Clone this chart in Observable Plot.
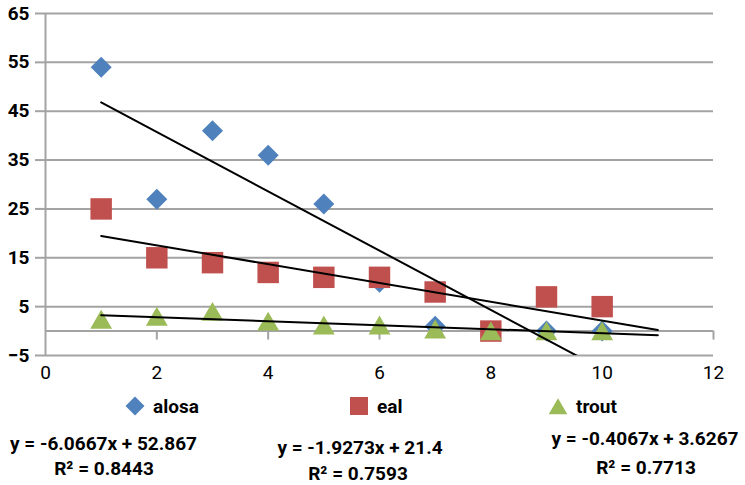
<!DOCTYPE html>
<html><head><meta charset="utf-8">
<script src="https://cdn.jsdelivr.net/npm/d3@7"></script>
<script src="https://cdn.jsdelivr.net/npm/@observablehq/plot@0.6"></script>
<style>
body{margin:0;background:#fff;}
#wrap{position:relative;width:745px;height:485px;font-family:Roboto,sans-serif;overflow:hidden;}
#wrap svg.plot{display:block;}
.lab{position:absolute;transform:translate(-50%,-50%);white-space:nowrap;font-weight:bold;font-size:19px;line-height:1;color:#000;}
.leg{position:absolute;display:flex;align-items:center;transform:translateY(-50%);font-weight:bold;font-size:19px;line-height:1;color:#000;}
.leg svg{display:block;margin-right:8px;}
</style></head><body><div id="wrap"></div>
<script>
// ---- data ----
const xValues = [1, 2, 3, 4, 5, 6, 7, 8, 9, 10];
const alosa = [54, 27, 41, 36, 26, 10, 1, 0, 0, 0];
const eal = [25, 15, 14, 12, 11, 11, 8, 0, 7, 5];
const trout = [2.4, 3, 4, 2, 1.2, 1.2, 0.4, 0, 0, 0];
const seriesNames = ["alosa", "eal", "trout"];
const seriesColors = ["#4f81bd", "#c0504d", "#9bbb59"];
const slopes = [-6.0667, -1.9273, -0.4067];
const intercepts = [52.867, 21.4, 3.6267];
const rSquared = ["0.8443", "0.7593", "0.7713"];
const trendRange = [1, 11];
const xTicks = [0, 2, 4, 6, 8, 10, 12];
const yTicks = [-5, 5, 15, 25, 35, 45, 55, 65];

// ---- derived tables ----
const seriesValues = [alosa, eal, trout];
const points = seriesValues.map(vals => xValues.map((x, i) => ({x, y: vals[i]})));
const trendLines = seriesNames.flatMap((name, k) =>
  trendRange.map(x => ({name, x, y: slopes[k] * x + intercepts[k]})));

const grid = "#a3a3a3";
const symbols = ["diamond2", "square", "triangle"];
const radii = [9.46, 12.1, 8.1];

const plot = Plot.plot({
  width: 745,
  height: 385,
  marginLeft: 45,
  marginRight: 32,
  marginTop: 13,
  marginBottom: 30,
  style: {fontFamily: "Roboto, sans-serif", fontSize: "19px", color: "#000", background: "#fff"},
  x: {domain: [0, 12]},
  y: {domain: [-5, 65]},
  marks: [
    Plot.gridY({ticks: yTicks, stroke: grid, strokeOpacity: 1, strokeWidth: 2}),
    Plot.ruleY([0], {stroke: grid, strokeWidth: 2}),
    Plot.ruleX(xTicks.filter(d => d > 0), {x: d => d, y1: 0, y2: 0, insetBottom: -9, stroke: grid, strokeWidth: 2}),
    Plot.ruleX([0], {y1: -5, y2: 65, stroke: grid, strokeWidth: 2}),
    Plot.axisY({ticks: yTicks, tickSize: 10, tickPadding: 6, stroke: grid, strokeWidth: 2, fontWeight: "bold", label: null}),
    Plot.axisX({ticks: xTicks, tickSize: 0, tickPadding: 10, label: null}),
    ...points.map((pts, k) => Plot.dot(pts, {
      x: "x", y: "y", symbol: () => symbols[k], r: radii[k],
      fill: seriesColors[k], stroke: "none", dy: k === 2 ? 3 : 0
    })),
    Plot.line(trendLines, {x: "x", y: "y", z: "name", stroke: "#000", strokeWidth: 2, clip: true})
  ]
});
plot.classList.add("plot");
const wrap = document.getElementById("wrap");
wrap.appendChild(plot);

// ---- legend ----
const legendX = [135, 359, 558];
const legendSymbols = [d3.symbolDiamond2, d3.symbolSquare, d3.symbolTriangle];
const legendSizes = [230, 324, 150];
seriesNames.forEach((name, k) => {
  const div = document.createElement("div");
  div.className = "leg";
  div.style.left = (legendX[k] - 10) + "px";
  div.style.top = "406px";
  const ty = k === 2 ? 13 : 10;
  div.innerHTML = `<svg width="20" height="20"><path transform="translate(10,${ty})" d="${d3.symbol(legendSymbols[k], legendSizes[k])()}" fill="${seriesColors[k]}"/></svg><span>${name}</span>`;
  wrap.appendChild(div);
});

// ---- equations ----
const eqPos = [[103.5, 443, 104, 468], [360, 447, 358, 473], [645, 438, 646, 467]];
const fmtSigned = v => (v < 0 ? "-" : "") + Math.abs(v);
seriesNames.forEach((name, k) => {
  const [ex, ey, rx, ry] = eqPos[k];
  const e = document.createElement("div");
  e.className = "lab";
  e.style.left = ex + "px"; e.style.top = ey + "px";
  e.textContent = `y = ${fmtSigned(slopes[k])}x + ${intercepts[k]}`;
  wrap.appendChild(e);
  const r = document.createElement("div");
  r.className = "lab";
  r.style.left = rx + "px"; r.style.top = ry + "px";
  r.textContent = `R² = ${rSquared[k]}`;
  wrap.appendChild(r);
});
</script>
</body></html>
